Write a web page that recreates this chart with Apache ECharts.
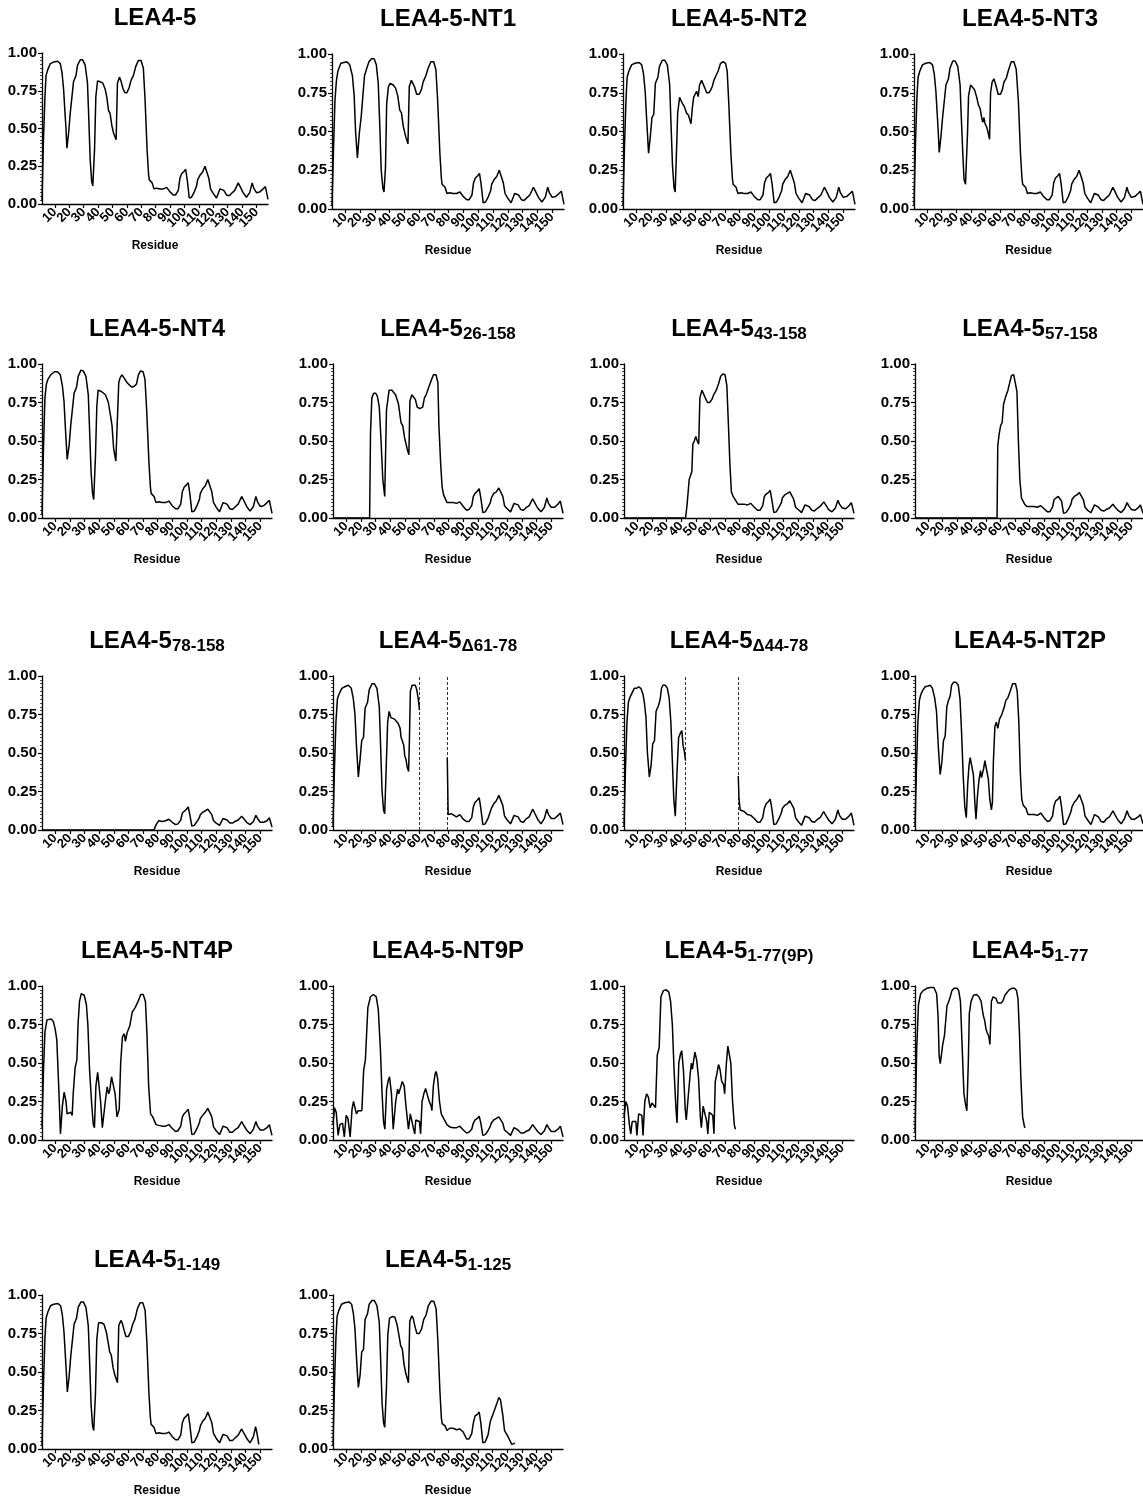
<!DOCTYPE html>
<html><head><meta charset="utf-8">
<script src="https://cdn.jsdelivr.net/npm/echarts@6/dist/echarts.min.js"></script>
<style>html,body{margin:0;padding:0;background:#fff;}#c{width:1143px;height:1500px;}</style>
</head><body><div id="c"></div>
<script>
// ---------------- DATA (residue, fraction) ----------------
const xTickValues = [10,20,30,40,50,60,70,80,90,100,110,120,130,140,150];
const xLabelValuesOdd = [10,30,50,70,90,110,130,150];
const xLabelValuesEven = [20,40,60,80,100,120,140];

const panelMainTitles = ['LEA4-5','LEA4-5-NT1','LEA4-5-NT2','LEA4-5-NT3','LEA4-5-NT4','LEA4-5','LEA4-5','LEA4-5','LEA4-5','LEA4-5','LEA4-5','LEA4-5-NT2P','LEA4-5-NT4P','LEA4-5-NT9P','LEA4-5','LEA4-5','LEA4-5','LEA4-5'];
const panelSubTitles = ['','','','','','26-158','43-158','57-158','78-158','Δ61-78','Δ44-78','','','','1-77(9P)','1-77','1-149','1-125'];

const gapLinesDelta61 = [60, 79];
const gapLinesDelta44 = [43, 79];

const tailWT = [[74,0.36],[75,0.20],[75.5,0.16],[76.5,0.155],[77.5,0.14],[78.8,0.10],[80.7,0.105],[83,0.10],[85.3,0.10],[87.6,0.11],[88.8,0.105],[89.9,0.08],[92.2,0.06],[93.8,0.06],[95.7,0.09],[96.8,0.17],[98,0.20],[99.6,0.215],[100.8,0.23],[101.9,0.16],[103.3,0.04],[104.9,0.045],[106.8,0.08],[108.4,0.12],[109.1,0.16],[110.7,0.19],[112.5,0.21],[114.2,0.25],[115.3,0.24],[116.9,0.17],[118.1,0.10],[119.9,0.07],[122.2,0.04],[124.6,0.10],[125.7,0.10],[127.3,0.09],[129.2,0.06],[131,0.055],[132.6,0.07],[134.9,0.09],[137.3,0.14],[138.4,0.12],[140.7,0.075],[143,0.045],[145.3,0.075],[147,0.14],[148.1,0.105],[150,0.075],[152.3,0.08],[154.6,0.10],[156.2,0.115],[158,0.03]];

const lea45Head = [[1,0.02],[2,0.42],[3,0.70],[3.8,0.85],[5,0.89],[6.8,0.93],[9,0.94],[11.9,0.945],[13.7,0.93],[14.9,0.87],[16,0.76],[17,0.60],[17.6,0.51],[18.3,0.37],[19.5,0.47],[20.6,0.60],[21.8,0.61],[22.9,0.81],[24.6,0.85],[25.7,0.92],[27.6,0.955],[29.2,0.955],[31,0.92],[32.6,0.80],[33.3,0.62],[34.5,0.29],[35.5,0.15],[36.3,0.12],[37.5,0.36],[38.4,0.71],[39.6,0.815],[41.4,0.81],[43.3,0.80],[44.9,0.76],[46,0.71],[47.2,0.62],[48.3,0.60],[49.5,0.52],[50.7,0.47],[52.5,0.425],[53.4,0.80],[54.8,0.84],[55.7,0.82],[57.1,0.77],[58.3,0.74],[59.9,0.735],[61.5,0.77],[62.9,0.82],[64.5,0.85],[66.1,0.91],[67.9,0.95],[69.8,0.95],[71.4,0.90],[72.6,0.69]];

const nt1Head = [[1,0.02],[2,0.38],[3,0.70],[4,0.83],[5,0.89],[7,0.94],[9,0.945],[11,0.95],[13,0.93],[14.8,0.86],[16,0.73],[17,0.49],[18.2,0.33],[19.5,0.49],[20.8,0.60],[21.8,0.61],[23,0.86],[24.6,0.91],[26,0.95],[27.8,0.97],[29.5,0.97],[31,0.93],[32.3,0.81],[33.3,0.55],[34.3,0.25],[35.5,0.13],[36.2,0.11],[37.2,0.27],[38,0.68],[39.2,0.79],[40.3,0.81],[42.5,0.80],[44,0.78],[45.5,0.73],[46.8,0.64],[48,0.62],[49.3,0.53],[50.8,0.47],[52.4,0.42],[53.3,0.79],[54.7,0.83],[55.6,0.84],[56.8,0.79],[58.3,0.74],[60,0.74],[61.5,0.77],[62.7,0.82],[64.5,0.86],[66.1,0.91],[67.9,0.95],[69.8,0.95],[71.3,0.90],[72.5,0.70]];

const nt2Head = [[1,0.02],[2,0.40],[3,0.70],[3.8,0.85],[5,0.89],[6.8,0.93],[9,0.94],[11.9,0.945],[13.7,0.93],[14.9,0.87],[16,0.76],[17,0.58],[18.3,0.36],[19.5,0.47],[20.6,0.59],[21.8,0.61],[22.9,0.81],[24.6,0.85],[25.7,0.92],[27.6,0.96],[29.2,0.96],[31,0.93],[32.6,0.80],[33.3,0.60],[34.5,0.28],[35.5,0.14],[36.3,0.11],[37.3,0.40],[38,0.62],[39.3,0.72],[40.7,0.69],[42.5,0.66],[44,0.62],[45.3,0.605],[46.3,0.60],[47,0.55],[47.9,0.65],[48.8,0.72],[49.7,0.73],[50.8,0.76],[51.9,0.725],[52.8,0.80],[54.2,0.83],[55.3,0.83],[56.4,0.78],[57.6,0.75],[59.1,0.75],[60.5,0.77],[61.4,0.79],[62.5,0.83],[63.9,0.86],[65.4,0.89],[67,0.94],[68.8,0.95],[70.4,0.94],[71.5,0.89],[72.5,0.70]];

const nt3Head = [[1,0.02],[2,0.42],[3,0.72],[3.8,0.85],[5,0.89],[6.8,0.93],[9,0.94],[11.9,0.945],[13.7,0.93],[14.9,0.87],[16,0.76],[17,0.60],[17.6,0.50],[18.3,0.365],[19.5,0.47],[20.6,0.59],[21.8,0.60],[22.9,0.80],[24.6,0.84],[25.7,0.91],[27.6,0.955],[29.2,0.955],[31,0.92],[32.6,0.80],[33.3,0.62],[34.5,0.35],[35.3,0.19],[36.3,0.16],[36.8,0.165],[37.7,0.49],[38.4,0.73],[39.8,0.80],[41.1,0.795],[42.5,0.77],[44,0.72],[45.2,0.67],[46.3,0.65],[47.4,0.59],[48.1,0.56],[49,0.59],[49.7,0.55],[50.8,0.53],[51.9,0.49],[52.8,0.45],[53.5,0.75],[54.6,0.82],[55.8,0.84],[57.1,0.80],[58.7,0.74],[60.3,0.74],[61.6,0.77],[62.7,0.82],[64.3,0.845],[65.9,0.90],[67.7,0.95],[69.5,0.95],[71.1,0.90],[72.6,0.69]];

const nt4Head = [[1,0.02],[2,0.45],[3,0.78],[4,0.87],[5,0.90],[7,0.93],[9.5,0.95],[11.5,0.95],[13.5,0.93],[14.9,0.86],[16,0.76],[17,0.58],[18.2,0.38],[19.5,0.47],[20.6,0.60],[21.8,0.61],[22.9,0.81],[24.6,0.85],[25.7,0.92],[27.6,0.96],[29.2,0.955],[31,0.92],[32.6,0.80],[33.3,0.62],[34.5,0.30],[35.5,0.16],[36.3,0.12],[37.5,0.40],[38.4,0.72],[39.3,0.83],[41.8,0.82],[44.3,0.80],[46.3,0.75],[48,0.65],[48.8,0.60],[49.9,0.45],[50.6,0.44],[51.4,0.37],[52.4,0.365],[53.4,0.88],[54.3,0.91],[55.5,0.93],[57,0.91],[59,0.88],[61,0.86],[62.5,0.85],[64,0.855],[65.5,0.87],[66.8,0.93],[68.3,0.955],[70,0.95],[71.3,0.90],[72.5,0.69]];

const frag26 = [[1,0],[26,0],[26.6,0.55],[27.5,0.78],[28.8,0.81],[30.2,0.81],[31.3,0.79],[32.6,0.72],[33.8,0.50],[35,0.25],[36.3,0.14],[37.5,0.70],[39.3,0.83],[41.2,0.83],[43.7,0.80],[45.7,0.74],[47.4,0.62],[48.6,0.60],[49.9,0.52],[51.6,0.45],[52.8,0.41],[53.5,0.76],[54.8,0.80],[56,0.81],[57.2,0.77],[58.5,0.72],[60.2,0.71],[62.2,0.72],[63.4,0.78],[64.6,0.80],[66.4,0.85],[68.3,0.90],[69.6,0.93],[71.3,0.93],[72.6,0.88],[73.3,0.60],[74.5,0.35],[75.5,0.20],[76.5,0.15],[77.5,0.14],[78.8,0.10],[80.7,0.10],[83,0.10],[85.3,0.095],[87.6,0.105],[88.8,0.10],[89.9,0.075],[92.2,0.05],[93.8,0.055],[95.7,0.08],[96.8,0.14],[98,0.16],[99.6,0.175],[100.8,0.19],[101.9,0.13],[103.3,0.035],[104.9,0.04],[106.8,0.07],[108.4,0.10],[109.1,0.13],[110.7,0.16],[112.5,0.17],[114.2,0.195],[115.3,0.19],[116.9,0.14],[118.1,0.08],[119.9,0.06],[122.2,0.04],[124.6,0.095],[125.7,0.095],[127.3,0.085],[129.2,0.055],[131,0.05],[132.6,0.065],[134.9,0.08],[137.3,0.125],[138.4,0.105],[140.7,0.065],[143,0.04],[145.3,0.07],[147,0.13],[148.1,0.095],[150,0.07],[152.3,0.07],[154.6,0.09],[156.2,0.11],[158,0.03]];

const frag43 = [[1,0],[43,0],[44,0.08],[45.5,0.25],[46.5,0.25],[47.3,0.30],[48,0.48],[49,0.50],[50,0.53],[51,0.50],[52,0.48],[52.8,0.78],[54.2,0.83],[55.3,0.82],[56.5,0.78],[58,0.75],[59.5,0.75],[61,0.77],[62.2,0.80],[64,0.83],[65.5,0.87],[67,0.92],[68.5,0.935],[70,0.93],[71.2,0.86],[72.3,0.60],[73.3,0.35],[74.3,0.17],[75.5,0.14],[76.5,0.13],[77.5,0.11],[78.8,0.09],[80.7,0.09],[83,0.09],[85.3,0.085],[87.6,0.095],[88.8,0.09],[89.9,0.07],[92.2,0.05],[93.8,0.05],[95.7,0.08],[96.8,0.14],[98,0.155],[99.6,0.165],[100.8,0.18],[101.9,0.12],[103.3,0.035],[104.9,0.04],[106.8,0.07],[108.4,0.10],[109.1,0.13],[110.7,0.15],[112.5,0.16],[114.2,0.17],[115.3,0.165],[116.9,0.12],[118.1,0.07],[119.9,0.055],[122.2,0.035],[124.6,0.085],[125.7,0.085],[127.3,0.075],[129.2,0.05],[131,0.045],[132.6,0.06],[134.9,0.075],[137.3,0.105],[138.4,0.09],[140.7,0.055],[143,0.04],[145.3,0.065],[147,0.115],[148.1,0.09],[150,0.065],[152.3,0.06],[154.6,0.08],[156.2,0.10],[158,0.03]];

const frag57 = [[1,0],[57.5,0],[58,0.47],[59,0.55],[60,0.60],[61,0.62],[62,0.74],[63.5,0.79],[65,0.83],[66.5,0.89],[67.5,0.925],[69,0.93],[70.3,0.92],[71.2,0.82],[72.2,0.50],[73.2,0.25],[74.3,0.13],[75.3,0.12],[76.5,0.09],[78,0.075],[80.7,0.075],[83,0.075],[85.3,0.07],[87.6,0.08],[88.8,0.075],[89.9,0.06],[92.2,0.04],[93.8,0.04],[95.7,0.07],[96.8,0.12],[98,0.13],[99.6,0.14],[100.8,0.15],[101.9,0.11],[103.3,0.03],[104.9,0.035],[106.8,0.06],[108.4,0.09],[109.1,0.12],[110.7,0.14],[112.5,0.15],[114.2,0.165],[115.3,0.16],[116.9,0.12],[118.1,0.07],[119.9,0.05],[122.2,0.035],[124.6,0.085],[125.7,0.085],[127.3,0.07],[129.2,0.05],[131,0.045],[132.6,0.055],[134.9,0.065],[137.3,0.09],[138.4,0.075],[140.7,0.05],[143,0.035],[145.3,0.06],[147,0.10],[148.1,0.08],[150,0.055],[152.3,0.05],[154.6,0.065],[156.2,0.085],[158,0.03]];

const frag78 = [[1,0],[77.5,0],[78.2,0.02],[79.2,0.04],[80.7,0.06],[83,0.055],[85.3,0.06],[86.5,0.055],[87.6,0.07],[88.8,0.065],[89.9,0.05],[92.2,0.035],[93.8,0.04],[95.7,0.065],[96.8,0.11],[98,0.12],[99.6,0.135],[100.8,0.15],[101.9,0.10],[103.3,0.025],[104.9,0.03],[106.8,0.055],[108.4,0.08],[109.1,0.10],[110.7,0.115],[112.5,0.125],[114.2,0.135],[115.3,0.13],[116.9,0.10],[118.1,0.06],[119.9,0.045],[122.2,0.03],[124.6,0.075],[125.7,0.075],[127.3,0.065],[129.2,0.045],[131,0.045],[132.6,0.055],[134.9,0.065],[137.3,0.09],[138.4,0.08],[140.7,0.05],[143,0.035],[145.3,0.055],[147,0.095],[148.1,0.075],[150,0.05],[152.3,0.05],[154.6,0.06],[156.2,0.08],[158,0.02]];

const del61 = [[1,0.02],[2,0.40],[3,0.70],[4,0.85],[5,0.88],[7,0.92],[9,0.93],[11.5,0.94],[13.5,0.92],[14.9,0.85],[16,0.75],[17,0.55],[18.3,0.345],[19.5,0.46],[20.6,0.58],[21.8,0.60],[22.9,0.79],[24.6,0.83],[25.7,0.91],[27.6,0.95],[29.2,0.95],[31,0.92],[32.6,0.80],[33.3,0.60],[34.5,0.25],[35.5,0.13],[36.3,0.105],[37.3,0.40],[38.3,0.70],[39.3,0.77],[40.5,0.73],[41.8,0.72],[43,0.72],[44.3,0.71],[45.6,0.69],[46.8,0.66],[47.5,0.60],[48.3,0.58],[49.3,0.55],[50,0.48],[50.8,0.46],[51.6,0.41],[52.6,0.38],[53.2,0.60],[53.8,0.90],[55,0.94],[56.2,0.95],[57.2,0.94],[58.2,0.91],[59.2,0.85],[60,0.78],[60.5,'-'],[79,0.47],[79.6,0.10],[80.7,0.095],[82,0.105],[83,0.095],[85.3,0.085],[86.5,0.09],[87.6,0.10],[88.8,0.09],[89.9,0.07],[92.2,0.055],[93.8,0.055],[95.7,0.08],[96.8,0.15],[98,0.18],[99.6,0.195],[100.8,0.21],[101.9,0.14],[103.3,0.035],[104.9,0.04],[106.8,0.075],[108.4,0.12],[109.1,0.14],[110.7,0.17],[112.5,0.19],[114.2,0.225],[115.3,0.22],[116.9,0.16],[118.1,0.09],[119.9,0.065],[122.2,0.04],[124.6,0.095],[125.7,0.095],[127.3,0.085],[129.2,0.055],[131,0.05],[132.6,0.07],[134.9,0.085],[137.3,0.135],[138.4,0.115],[140.7,0.07],[143,0.04],[145.3,0.075],[147,0.135],[148.1,0.10],[150,0.075],[152.3,0.075],[154.6,0.095],[156.2,0.11],[158,0.035]];

const del44 = [[1,0.02],[2,0.40],[3,0.70],[4,0.83],[5,0.86],[6.5,0.89],[8,0.92],[9.5,0.92],[11,0.93],[12.5,0.92],[14,0.88],[15,0.82],[16,0.73],[17,0.50],[18.3,0.345],[19.5,0.42],[20.6,0.56],[21.8,0.58],[22.9,0.77],[24.6,0.81],[25.7,0.85],[26.6,0.92],[27.6,0.94],[29.2,0.94],[30.6,0.92],[31.8,0.86],[33,0.70],[34,0.45],[35,0.20],[36,0.09],[36.5,0.08],[37.3,0.40],[38.3,0.60],[39.5,0.63],[40.5,0.645],[41.3,0.55],[42.2,0.51],[43,0.45],[43.5,'-'],[79,0.35],[79.5,0.20],[80.3,0.13],[81.5,0.12],[83,0.12],[85.3,0.10],[86.5,0.09],[87.6,0.095],[88.8,0.09],[89.9,0.075],[92.2,0.05],[93.8,0.05],[95.7,0.08],[96.8,0.14],[98,0.17],[99.6,0.185],[100.8,0.20],[101.9,0.14],[103.3,0.035],[104.9,0.04],[106.8,0.075],[108.4,0.11],[109.1,0.14],[110.7,0.16],[112.5,0.17],[114.2,0.19],[115.3,0.185],[116.9,0.14],[118.1,0.08],[119.9,0.055],[122.2,0.03],[124.6,0.09],[125.7,0.09],[127.3,0.08],[129.2,0.055],[131,0.05],[132.6,0.065],[134.9,0.08],[137.3,0.12],[138.4,0.10],[140.7,0.065],[143,0.04],[145.3,0.07],[147,0.13],[148.1,0.095],[150,0.07],[152.3,0.07],[154.6,0.09],[156.2,0.11],[158,0.03]];

const nt2p = [[1,0.02],[2,0.40],[3,0.70],[4,0.84],[5,0.88],[6.5,0.91],[8,0.93],[10,0.935],[11.5,0.94],[13,0.92],[14.5,0.86],[15.8,0.77],[17,0.55],[18.3,0.36],[19.5,0.44],[20.6,0.58],[21.8,0.61],[22.9,0.80],[24,0.84],[25.2,0.87],[26.2,0.94],[27.6,0.96],[29.2,0.96],[30.8,0.94],[32,0.85],[33,0.65],[34.2,0.35],[35.3,0.15],[36.3,0.08],[37.3,0.30],[38.2,0.42],[39,0.47],[40.3,0.48],[41.2,0.36],[42.2,0.18],[43,0.07],[44,0.22],[45,0.32],[46.1,0.385],[46.8,0.34],[47.5,0.33],[48.3,0.40],[49.1,0.45],[50.4,0.44],[51.5,0.33],[52.5,0.20],[53.6,0.13],[54.3,0.18],[55,0.45],[56,0.67],[57,0.70],[58,0.66],[59.2,0.72],[60.8,0.75],[62.5,0.80],[63.5,0.84],[65,0.86],[66.5,0.90],[68.2,0.95],[70.2,0.95],[71.4,0.90],[72.5,0.70],[73.5,0.38],[74.5,0.20],[75.5,0.16],[76.5,0.155],[77.5,0.14],[78.8,0.10],[80.7,0.10],[83,0.10],[85.3,0.095],[87.6,0.11],[88.8,0.10],[89.9,0.08],[92.2,0.055],[93.8,0.06],[95.7,0.09],[96.8,0.16],[98,0.19],[99.6,0.20],[100.8,0.22],[101.9,0.15],[103.3,0.035],[104.9,0.04],[106.8,0.08],[108.4,0.12],[109.1,0.15],[110.7,0.18],[112.5,0.20],[114.2,0.23],[115.3,0.225],[116.9,0.16],[118.1,0.09],[119.9,0.065],[122.2,0.035],[124.6,0.10],[125.7,0.095],[127.3,0.085],[129.2,0.055],[131,0.05],[132.6,0.07],[134.9,0.085],[137.3,0.125],[138.4,0.105],[140.7,0.065],[143,0.04],[145.3,0.075],[147,0.125],[148.1,0.095],[150,0.07],[152.3,0.07],[154.6,0.085],[156.2,0.10],[158,0.04]];

const nt4p = [[1,0.08],[2,0.45],[3,0.70],[4.4,0.78],[5.7,0.79],[7.4,0.785],[8.7,0.77],[10,0.72],[11.1,0.65],[12.4,0.35],[13.6,0.04],[14.9,0.22],[16.1,0.31],[17.4,0.25],[18.1,0.17],[19.4,0.18],[20.6,0.18],[21.6,0.16],[22.3,0.30],[23.6,0.47],[24.8,0.52],[25.6,0.75],[26.6,0.90],[27.8,0.95],[29.8,0.94],[31.3,0.88],[32.3,0.75],[33.5,0.45],[34.8,0.25],[36,0.10],[36.8,0.08],[37.8,0.35],[39,0.44],[39.8,0.45],[41,0.25],[42.2,0.08],[43,0.07],[44.2,0.25],[45.5,0.345],[46.5,0.30],[47.2,0.32],[48.5,0.41],[49.7,0.40],[50.9,0.30],[52.2,0.15],[52.7,0.14],[53.7,0.20],[54.7,0.50],[55.9,0.67],[57.2,0.69],[57.9,0.64],[59.2,0.70],[60.9,0.74],[62.6,0.83],[64.6,0.86],[66.6,0.90],[68.4,0.945],[70.1,0.945],[71.6,0.90],[72.6,0.70],[73.8,0.35],[75.1,0.17],[76.6,0.15],[77.5,0.14],[78.8,0.10],[80.7,0.095],[83,0.09],[85.3,0.09],[87.6,0.10],[88.8,0.095],[89.9,0.075],[92.2,0.055],[93.8,0.06],[95.7,0.09],[96.8,0.15],[98,0.17],[99.6,0.185],[100.8,0.20],[101.9,0.14],[103.3,0.035],[104.9,0.04],[106.8,0.075],[108.4,0.11],[109.1,0.14],[110.7,0.16],[112.5,0.18],[114.2,0.205],[115.3,0.20],[116.9,0.15],[118.1,0.085],[119.9,0.06],[122.2,0.035],[124.6,0.09],[125.7,0.09],[127.3,0.08],[129.2,0.05],[131,0.05],[132.6,0.065],[134.9,0.08],[137.3,0.12],[138.4,0.10],[140.7,0.065],[143,0.04],[145.3,0.07],[147,0.12],[148.1,0.09],[150,0.065],[152.3,0.065],[154.6,0.08],[156.2,0.10],[158,0.03]];

const nt9p = [[1,0.10],[2,0.21],[3.2,0.18],[4.5,0.03],[5.7,0.10],[7.5,0.11],[8.7,0.02],[10,0.16],[11.2,0.14],[12,0.15],[12.7,0.02],[14,0.20],[15,0.25],[16.2,0.24],[17,0.17],[18.2,0.19],[19.4,0.20],[20.7,0.19],[21.9,0.45],[23.1,0.52],[24.8,0.86],[26.6,0.93],[28.6,0.945],[30.5,0.93],[31.9,0.85],[33.3,0.60],[34.5,0.30],[35.5,0.12],[36.4,0.07],[37.6,0.33],[38.8,0.39],[39.6,0.41],[40.9,0.30],[42.1,0.07],[43.8,0.25],[45.1,0.33],[45.8,0.30],[47.1,0.34],[48.3,0.38],[49.6,0.35],[50.8,0.22],[52.5,0.07],[53.8,0.17],[54.5,0.18],[55.8,0.08],[56.8,0.04],[57.5,0.13],[58.8,0.12],[60,0.12],[60.8,0.04],[61.8,0.25],[63,0.30],[64.2,0.335],[65.5,0.29],[66.7,0.25],[68,0.22],[68.5,0.19],[69.5,0.35],[70.7,0.43],[71.4,0.445],[72.4,0.40],[73.7,0.25],[74.9,0.17],[76.5,0.14],[77.5,0.13],[78.8,0.10],[80.7,0.085],[83,0.08],[85.3,0.08],[87.6,0.09],[88.8,0.085],[89.9,0.065],[92.2,0.045],[93.8,0.05],[95.7,0.07],[96.8,0.11],[98,0.13],[99.6,0.14],[100.8,0.155],[101.9,0.11],[103.3,0.03],[104.9,0.035],[106.8,0.06],[108.4,0.09],[109.1,0.11],[110.7,0.13],[112.5,0.14],[114.2,0.15],[115.3,0.145],[116.9,0.11],[118.1,0.065],[119.9,0.05],[122.2,0.03],[124.6,0.08],[125.7,0.075],[127.3,0.065],[129.2,0.045],[131,0.045],[132.6,0.055],[134.9,0.065],[137.3,0.10],[138.4,0.085],[140.7,0.055],[143,0.035],[145.3,0.06],[147,0.10],[148.1,0.08],[150,0.055],[152.3,0.055],[154.6,0.07],[156.2,0.09],[158,0.02]];

const frag1to77p9 = [[1,0.15],[2.2,0.25],[3.4,0.22],[4.7,0.10],[5.6,0.04],[6.6,0.12],[7.8,0.13],[9.1,0.12],[9.8,0.03],[11,0.17],[12,0.16],[13.2,0.16],[14,0.03],[15.2,0.25],[16.4,0.30],[17.6,0.28],[18.8,0.21],[20.1,0.24],[21.3,0.24],[22.5,0.21],[23.7,0.55],[25,0.60],[26.2,0.93],[27.9,0.97],[29.9,0.975],[31.6,0.96],[32.8,0.90],[34,0.75],[35.2,0.45],[36.5,0.20],[37.2,0.11],[38.4,0.50],[39.6,0.56],[40.4,0.58],[41.6,0.45],[42.8,0.20],[43.5,0.13],[45,0.30],[46.2,0.43],[47,0.50],[47.7,0.46],[48.4,0.46],[49.4,0.57],[50.6,0.52],[51.9,0.40],[53.1,0.15],[53.8,0.08],[55,0.22],[56.3,0.23],[57.5,0.12],[58.2,0.04],[59.2,0.18],[60.4,0.17],[61.6,0.16],[62.4,0.04],[63.3,0.38],[64.6,0.44],[65.5,0.49],[66.5,0.46],[67.7,0.38],[69,0.36],[69.7,0.30],[70.9,0.50],[71.9,0.61],[72.9,0.60],[73.9,0.50],[75.1,0.25],[76.3,0.10],[77,0.07]];

const frag1to77 = [[1,0.05],[2.2,0.60],[3.4,0.88],[4.9,0.95],[6.6,0.97],[9.1,0.985],[11.5,0.99],[14,0.99],[15.2,0.98],[15.9,0.95],[16.9,0.80],[17.6,0.55],[18.4,0.495],[19.1,0.50],[20.1,0.62],[21.3,0.68],[22,0.69],[23,0.87],[24.2,0.90],[25,0.92],[26.4,0.97],[27.9,0.985],[29.9,0.985],[31.1,0.97],[32.3,0.90],[33.5,0.60],[34.7,0.30],[36,0.22],[36.7,0.19],[37.7,0.50],[38.4,0.82],[39.6,0.90],[41.3,0.94],[43.3,0.945],[45,0.93],[46.5,0.90],[47.5,0.84],[48.2,0.80],[48.9,0.78],[49.9,0.72],[50.6,0.70],[51.9,0.67],[52.6,0.62],[53.6,0.90],[54.8,0.93],[56,0.94],[56.7,0.92],[58,0.89],[59.2,0.885],[60.4,0.89],[61.6,0.905],[62.9,0.94],[64.1,0.95],[65.8,0.975],[67.7,0.985],[69.5,0.985],[70.9,0.97],[71.9,0.92],[72.9,0.70],[73.9,0.40],[75.1,0.15],[76.4,0.085],[77,0.08]];

const frag1to149 = [[1,0.02],[2,0.42],[3,0.72],[3.8,0.85],[5,0.89],[6.8,0.93],[9,0.94],[11.9,0.945],[13.7,0.93],[14.9,0.87],[16,0.76],[17,0.60],[17.6,0.50],[18.3,0.37],[19.5,0.47],[20.6,0.60],[21.8,0.61],[22.9,0.81],[24.6,0.85],[25.7,0.92],[27.6,0.955],[29.2,0.955],[31,0.92],[32.6,0.80],[33.3,0.62],[34.5,0.29],[35.5,0.15],[36.3,0.12],[37.5,0.36],[38.4,0.71],[39.6,0.82],[41.4,0.82],[43.3,0.81],[44.9,0.76],[46,0.70],[47.2,0.63],[48.3,0.61],[49.5,0.53],[50.7,0.48],[52.5,0.43],[53.4,0.80],[54.8,0.835],[55.7,0.82],[57.1,0.77],[58.3,0.73],[59.9,0.73],[61.5,0.76],[62.9,0.81],[64.5,0.845],[66.1,0.91],[67.9,0.95],[69.8,0.95],[71.4,0.90],[72.6,0.69],[74,0.36],[75,0.20],[75.5,0.16],[76.5,0.155],[77.5,0.14],[78.8,0.10],[80.7,0.105],[83,0.10],[85.3,0.10],[87.6,0.11],[88.8,0.105],[89.9,0.08],[92.2,0.06],[93.8,0.06],[95.7,0.09],[96.8,0.17],[98,0.20],[99.6,0.215],[100.8,0.23],[101.9,0.16],[103.3,0.04],[104.9,0.045],[106.8,0.08],[108.4,0.12],[109.1,0.15],[110.7,0.18],[112.5,0.20],[114.2,0.24],[115.3,0.23],[116.9,0.17],[118.1,0.10],[119.9,0.07],[122.2,0.04],[124.6,0.095],[125.7,0.095],[127.3,0.085],[129.2,0.055],[131,0.055],[132.6,0.07],[134.9,0.09],[137.3,0.13],[138.4,0.11],[140.7,0.07],[143,0.04],[145.3,0.08],[146.8,0.145],[147.8,0.10],[149,0.03]];

const frag1to125 = [[1,0.02],[2,0.42],[3,0.72],[3.8,0.86],[5,0.90],[6.8,0.94],[9,0.95],[11.9,0.955],[13.7,0.94],[14.9,0.88],[16,0.78],[17,0.60],[17.6,0.50],[18.3,0.40],[19.5,0.48],[20.6,0.63],[21.8,0.645],[22.9,0.84],[24.6,0.88],[25.7,0.94],[27.6,0.965],[29.2,0.965],[31,0.93],[32.6,0.82],[33.3,0.64],[34.5,0.30],[35.5,0.17],[36.3,0.14],[37.5,0.40],[38.4,0.74],[39.6,0.85],[41.4,0.86],[43.3,0.855],[44.9,0.80],[46,0.74],[47.2,0.67],[48.3,0.65],[49.5,0.55],[50.7,0.49],[52.5,0.43],[53.4,0.83],[54.8,0.865],[55.7,0.85],[57.1,0.79],[58.3,0.75],[59.9,0.75],[61.5,0.78],[62.9,0.84],[64.5,0.87],[66.1,0.93],[67.9,0.96],[69.8,0.96],[71.4,0.91],[72.6,0.70],[74,0.37],[75,0.20],[75.5,0.165],[76.5,0.16],[77.5,0.15],[78.8,0.12],[80.7,0.135],[83,0.135],[85.3,0.125],[86.5,0.12],[87.6,0.13],[88.8,0.125],[89.9,0.11],[92.2,0.065],[93.8,0.065],[95.7,0.10],[96.8,0.17],[98,0.215],[99.6,0.225],[100.8,0.24],[101.9,0.17],[103.3,0.04],[104.9,0.045],[106.8,0.09],[108.4,0.18],[110,0.22],[111.5,0.26],[113,0.30],[114.2,0.335],[115.3,0.32],[116.9,0.22],[118.1,0.12],[119.9,0.09],[121.5,0.06],[123,0.03],[124,0.025],[124.5,0.035],[125,0.04]];

// ---------------- assembly ----------------
const panelData = [
  lea45Head.concat(tailWT), nt1Head.concat(tailWT), nt2Head.concat(tailWT), nt3Head.concat(tailWT),
  nt4Head.concat(tailWT), frag26, frag43, frag57,
  frag78, del61, del44, nt2p,
  nt4p, nt9p, frag1to77p9, frag1to77,
  frag1to149, frag1to125
];
const panelGapLines = {9: gapLinesDelta61, 10: gapLinesDelta44};

// ---------------- layout (pixels) ----------------
const FF = '"Liberation Sans", Arial, Helvetica, sans-serif';
const colLeft = [42, 333, 624, 915];
const rowTop = [54, 364, 676, 986, 1295];
function gridBox(i){
  const r = Math.floor(i/4), c = i%4;
  if (i === 0) return {left:42, top:53, width:226, height:151};
  if (r === 0) return {left:colLeft[c]-1, top:54, width:232, height:155};
  return {left:colLeft[c], top:rowTop[r], width:230, height:154};
}
const labelStyle = {rotate:45, fontSize:13, fontWeight:'bold', color:'#000', fontFamily:FF, margin:6,
  interval:0, showMinLabel:true, showMaxLabel:true, hideOverlap:false};

const grids=[], xAxes=[], yAxes=[], series=[], graphics=[];
panelData.forEach((d,i)=>{
  const g = gridBox(i);
  grids.push({left:g.left, top:g.top, width:g.width, height:g.height, containLabel:false});
  xAxes.push({
    type:'value', gridIndex:i, min:1, max:158, position:'bottom',
    axisLine:{show:true, onZero:false, lineStyle:{color:'#000', width:1.3}},
    axisTick:{show:true, customValues:xTickValues, length:4, lineStyle:{color:'#000', width:1.2}},
    axisLabel:Object.assign({show:true, customValues:xLabelValuesOdd}, labelStyle),
    splitLine:{show:false},
    name:'Residue', nameLocation:'middle', nameGap:36,
    nameTextStyle:{fontSize:12, fontWeight:'bold', color:'#000', fontFamily:FF}
  });
  xAxes.push({
    type:'value', gridIndex:i, min:1, max:158, position:'bottom', offset:0,
    axisLine:{show:false, onZero:false}, axisTick:{show:false},
    axisLabel:Object.assign({show:true, customValues:xLabelValuesEven}, labelStyle),
    splitLine:{show:false}
  });
  yAxes.push({
    type:'value', gridIndex:i, min:0, max:1, interval:0.25,
    axisLine:{show:true, onZero:false, lineStyle:{color:'#000', width:1.3}},
    axisTick:{show:true, length:4, lineStyle:{color:'#000', width:1.2}},
    minorTick:{show:true, splitNumber:10, length:2, lineStyle:{color:'#000', width:0.7}},
    axisLabel:{formatter:v=>v.toFixed(2), fontSize:15, fontWeight:'bold', color:'#000', fontFamily:FF, margin:5,
      showMinLabel:true, showMaxLabel:true},
    splitLine:{show:false}, minorSplitLine:{show:false}
  });
  const s = {
    type:'line', xAxisIndex:2*i, yAxisIndex:i, data:d, symbol:'none', showSymbol:false,
    connectNulls:false, lineStyle:{color:'#000', width:1.5}, silent:true, animation:false
  };
  if (panelGapLines[i]) {
    s.markLine = {symbol:'none', silent:true, animation:false, label:{show:false},
      lineStyle:{type:[3,2], color:'#000', width:0.8},
      data: panelGapLines[i].map(v=>({xAxis:v}))};
  }
  series.push(s);
  const main = panelMainTitles[i], sub = panelSubTitles[i];
  graphics.push({
    type:'text', x: g.left + g.width/2, y: g.top - 35, silent:true,
    style:{
      text: sub ? '{a|'+main+'}{b|'+sub+'}' : '{a|'+main+'}',
      rich:{
        a:{fontSize:24, fontWeight:'bold', fontFamily:FF, fill:'#000', lineHeight:30},
        b:{fontSize:17, fontWeight:'bold', fontFamily:FF, fill:'#000', lineHeight:30, padding:[11,0,0,0]}
      },
      textAlign:'center', textVerticalAlign:'middle', fill:'#000'
    }
  });
});

const chart = echarts.init(document.getElementById('c'), null, {renderer:'canvas', width:1143, height:1500});
chart.setOption({
  backgroundColor:'#fff', animation:false,
  grid:grids, xAxis:xAxes, yAxis:yAxes, series:series, graphic:graphics
});
</script>
</body></html>
